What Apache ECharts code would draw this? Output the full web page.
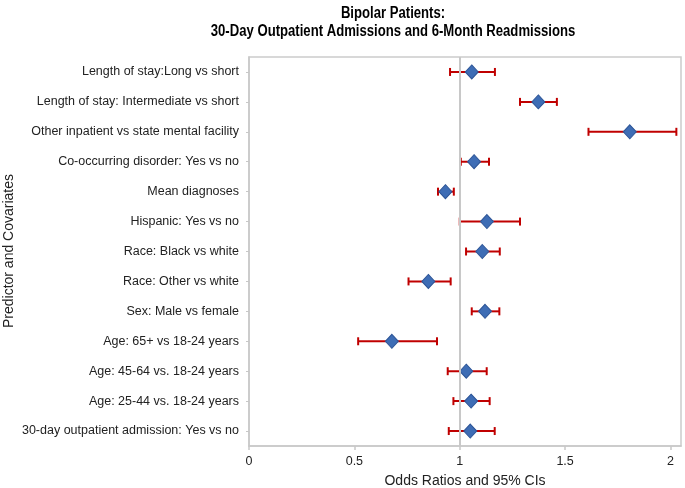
<!DOCTYPE html>
<html>
<head>
<meta charset="utf-8">
<script src="https://cdn.jsdelivr.net/npm/echarts@6/dist/echarts.min.js"></script>
<style>html,body{margin:0;padding:0;background:#fff}#c{width:685px;height:488px}</style>
</head>
<body>
<div id="c"></div>
<script>
var categories = [
  "Length of stay:Long vs short",
  "Length of stay: Intermediate vs short",
  "Other inpatient vs state mental facility",
  "Co-occurring disorder: Yes vs no",
  "Mean diagnoses",
  "Hispanic: Yes vs no",
  "Race: Black vs white",
  "Race: Other vs white",
  "Sex: Male vs female",
  "Age: 65+ vs 18-24 years",
  "Age: 45-64 vs. 18-24 years",
  "Age: 25-44 vs. 18-24 years",
  "30-day outpatient admission: Yes vs no"
];
var oddsRatio = [1.057, 1.373, 1.807, 1.068, 0.932, 1.129, 1.107, 0.851, 1.120, 0.678, 1.031, 1.054, 1.050];
var ciLow     = [0.954, 1.286, 1.611, 1.005, 0.897, 1.000, 1.030, 0.757, 1.057, 0.518, 0.943, 0.970, 0.948];
var ciHigh    = [1.167, 1.461, 2.028, 1.139, 0.972, 1.286, 1.190, 0.957, 1.188, 0.892, 1.128, 1.142, 1.166];
var xTicks = [0, 0.5, 1, 1.5, 2];
var titleLines = ['Bipolar Patients:', '30-Day Outpatient Admissions and 6-Month Readmissions'];
var yAxisTitle = 'Predictor and Covariates';
var xAxisTitle = 'Odds Ratios and 95% CIs';

var FONT = "'Liberation Sans', Arial, sans-serif";
var chart = echarts.init(document.getElementById('c'), null, {renderer: 'canvas'});

var errData = categories.map(function (c, i) { return [ciLow[i], ciHigh[i], i]; });
var ptData = categories.map(function (c, i) { return [oddsRatio[i], i]; });

chart.setOption({
  animation: false,
  backgroundColor: '#fff',
  graphic: [{
    type: 'text', x: 393, y: 5, scaleX: 0.82, originX: 0,
    style: {text: titleLines.join('\n'), textAlign: 'center', textVerticalAlign: 'top',
      font: "bold 16px 'Liberation Sans', Arial, sans-serif", lineHeight: 18, fill: '#000'}
  }, {
    type: 'text', x: 9, y: 251, rotation: Math.PI / 2,
    style: {text: yAxisTitle, textAlign: 'center', textVerticalAlign: 'middle',
      font: "14px 'Liberation Sans', Arial, sans-serif", fill: '#222'}
  }],
  grid: {left: 249, right: 4, top: 57, bottom: 42, show: true, borderColor: '#cccccc', borderWidth: 1.5,
    outerBoundsMode: 'none', containLabel: false},
  xAxis: {
    type: 'value', min: 0, max: 2.05, interval: 0.5,
    name: xAxisTitle, nameLocation: 'middle', nameGap: 28,
    nameTextStyle: {fontFamily: FONT, fontSize: 14, color: '#222'},
    axisLine: {show: true, lineStyle: {color: '#c8c8c8', width: 1.5}},
    axisTick: {show: true, length: 4, lineStyle: {color: '#c8c8c8', width: 1.5}},
    axisLabel: {fontFamily: FONT, fontSize: 12.5, color: '#222', margin: 9, showMaxLabel: false,
      formatter: function (v) { return xTicks.indexOf(v) >= 0 ? String(v) : ''; }},
    splitLine: {show: false}
  },
  yAxis: {
    type: 'category', data: categories, inverse: true,
    axisLine: {show: true, lineStyle: {color: '#c8c8c8', width: 1.5}},
    axisTick: {show: true, alignWithLabel: true, length: 3, lineStyle: {color: '#c8c8c8'}},
    axisLabel: {fontFamily: FONT, fontSize: 12.5, color: '#222', margin: 10},
    splitLine: {show: false}
  },
  series: [
    {
      type: 'custom',
      data: errData,
      renderItem: function (params, api) {
        var idx = api.value(2);
        var p1 = api.coord([api.value(0), idx]);
        var p2 = api.coord([api.value(1), idx]);
        var h = 4;
        var st = {stroke: '#c00000', lineWidth: 2};
        return {
          type: 'group',
          children: [
            {type: 'line', shape: {x1: p1[0], y1: p1[1], x2: p2[0], y2: p2[1]}, style: st},
            {type: 'line', shape: {x1: p1[0], y1: p1[1] - h, x2: p1[0], y2: p1[1] + h}, style: st},
            {type: 'line', shape: {x1: p2[0], y1: p2[1] - h, x2: p2[0], y2: p2[1] + h}, style: st}
          ]
        };
      },
      z: 2
    },
    {
      type: 'scatter',
      data: ptData,
      symbol: 'diamond',
      symbolSize: [13, 14],
      itemStyle: {color: '#3e6db5', borderColor: '#2d5597', borderWidth: 1, opacity: 1},
      markLine: {
        silent: true, symbol: 'none', label: {show: false},
        lineStyle: {color: '#c8c8c8', width: 2, type: 'solid'},
        data: [{xAxis: 1}]
      },
      z: 3
    }
  ]
});
</script>
</body>
</html>
